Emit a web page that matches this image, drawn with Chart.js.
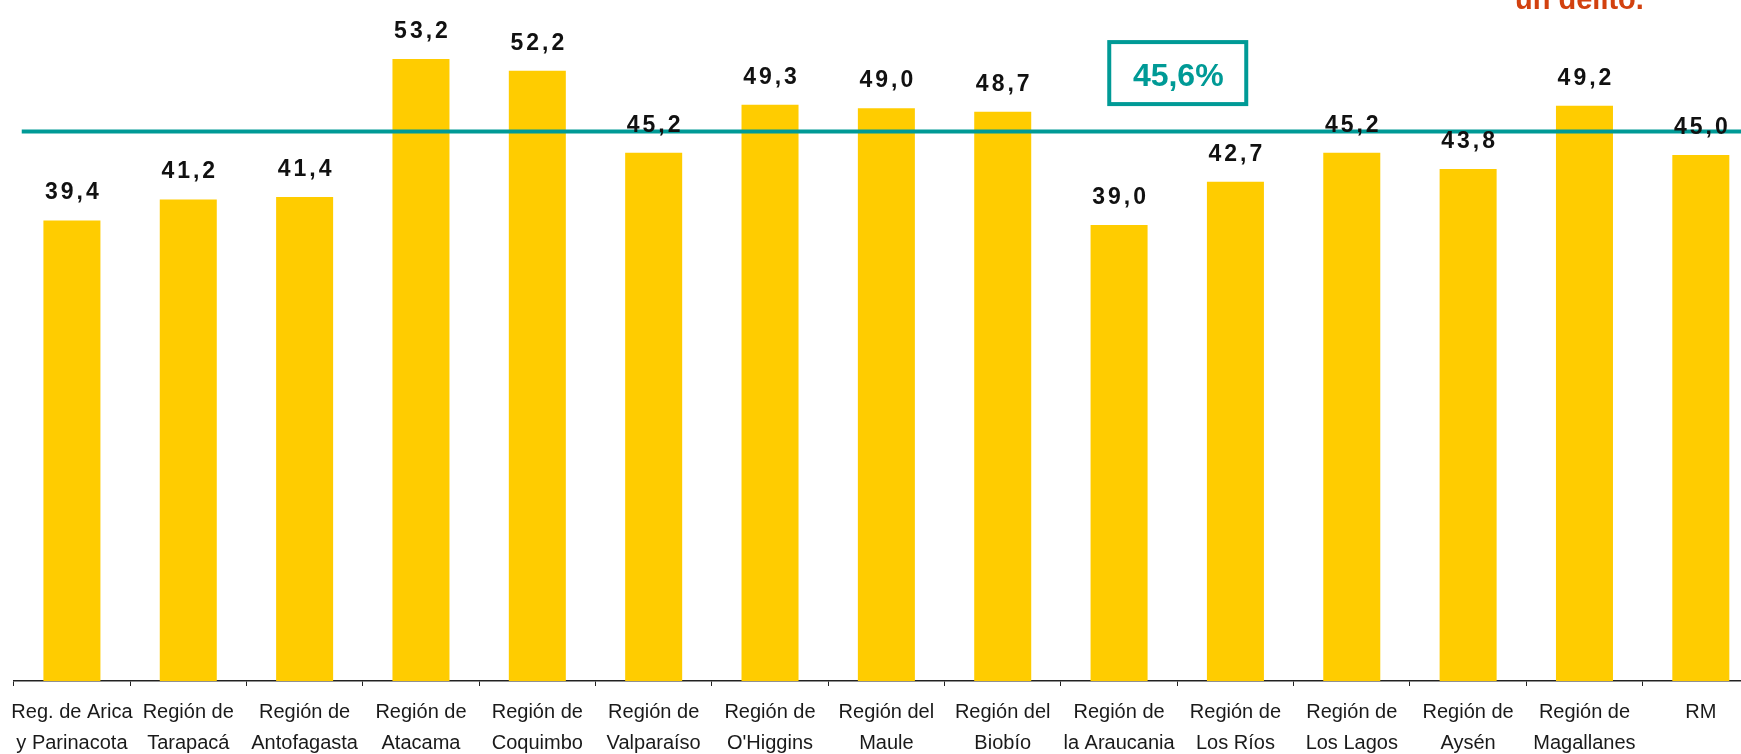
<!DOCTYPE html>
<html lang="es">
<head>
<meta charset="utf-8">
<title>Regiones</title>
<script src="https://cdn.jsdelivr.net/npm/chart.js@4.4.1/dist/chart.umd.min.js"></script>
<style>
  html, body { margin: 0; padding: 0; background: #fff; overflow: hidden; }
  #wrap { position: relative; width: 1770px; height: 754px; }
</style>
</head>
<body>
<div id="wrap"><canvas id="regionChart"></canvas></div>
<script>
// Regions (two-line tick labels)
const regions = [
  ["Reg. de Arica", "y Parinacota"],
  ["Región de", "Tarapacá"],
  ["Región de", "Antofagasta"],
  ["Región de", "Atacama"],
  ["Región de", "Coquimbo"],
  ["Región de", "Valparaíso"],
  ["Región de", "O'Higgins"],
  ["Región del", "Maule"],
  ["Región del", "Biobío"],
  ["Región de", "la Araucania"],
  ["Región de", "Los Ríos"],
  ["Región de", "Los Lagos"],
  ["Región de", "Aysén"],
  ["Región de", "Magallanes"],
  "RM"
];

// Percent per region
const shares = [39.4, 41.2, 41.4, 53.2, 52.2, 45.2, 49.3, 49.0, 48.7, 39.0, 42.7, 45.2, 43.8, 49.2, 45.0];
const shareLabels = shares.map(v => v.toFixed(1).replace(".", ","));

// National reference line (as drawn) and its label
const nationalLine = 47.0;
const nationalText = "45,6%";
const cornerText = "un delito.";

const TEAL = "#009a96";

// 🔹 Overlay: value labels, national line + box, corner text
const overlay = {
  id: "overlay",
  afterDatasetsDraw(chart) {
    const { ctx, chartArea, scales } = chart;
    const y = scales.y;
    const x = scales.x;
    ctx.save();

    // national line
    const ly = y.getPixelForValue(nationalLine);
    ctx.strokeStyle = TEAL;
    ctx.lineWidth = 4;
    ctx.beginPath();
    ctx.moveTo(chartArea.left + 8, ly);
    ctx.lineTo(chart.width, ly);
    ctx.stroke();

    // box between La Araucania and Los Ríos
    const bx = (x.getPixelForValue(9) + x.getPixelForValue(10)) / 2;
    ctx.lineWidth = 4;
    ctx.strokeRect(bx - 68, ly - 89.5, 137, 62);
    ctx.fillStyle = TEAL;
    ctx.font = "bold 32px 'Liberation Sans', Arial, sans-serif";
    ctx.textAlign = "center";
    ctx.textBaseline = "alphabetic";
    ctx.fillText(nationalText, bx + 1, ly - 46);

    // bar value labels
    const meta = chart.getDatasetMeta(0);
    ctx.fillStyle = "#111";
    ctx.font = "bold 23px 'Liberation Sans', Arial, sans-serif";
    ctx.letterSpacing = "3px";
    meta.data.forEach((bar, i) => {
      ctx.fillText(shareLabels[i], bar.x + 1.5, bar.y - 21);
    });
    ctx.letterSpacing = "0px";

    // clipped title remnant, top right
    ctx.fillStyle = "#d2410f";
    ctx.font = "bold 29px 'Liberation Sans', Arial, sans-serif";
    ctx.textAlign = "left";
    ctx.fillText(cornerText, 1515, 9);

    ctx.restore();
  }
};

const ctx = document.getElementById("regionChart").getContext("2d");
new Chart(ctx, {
  type: "bar",
  data: {
    labels: regions,
    datasets: [{
      data: shares,
      backgroundColor: "#ffcc00",
      borderWidth: 0,
      categoryPercentage: 1,
      barPercentage: 0.49
    }]
  },
  options: {
    responsive: true,
    maintainAspectRatio: false,
    animation: false,
    layout: { padding: { left: 10, right: 11, top: 3, bottom: 0 } },
    plugins: {
      legend: { display: false },
      tooltip: { enabled: false }
    },
    scales: {
      x: {
        grid: {
          offset: true,
          drawOnChartArea: false,
          drawTicks: true,
          tickLength: 5,
          color: "#222",
          lineWidth: 1
        },
        border: { display: true, color: "#222", width: 1.5 },
        ticks: {
          autoSkip: false,
          maxRotation: 0,
          minRotation: 0,
          padding: 11,
          color: "#1a1a1a",
          font: { family: "'Liberation Sans', Arial, sans-serif", size: 20, lineHeight: 1.55 }
        },
        afterFit(scale) { scale.height = 73; }
      },
      y: {
        display: false,
        min: 0,
        max: 58
      }
    }
  },
  plugins: [overlay]
});
</script>
</body>
</html>
